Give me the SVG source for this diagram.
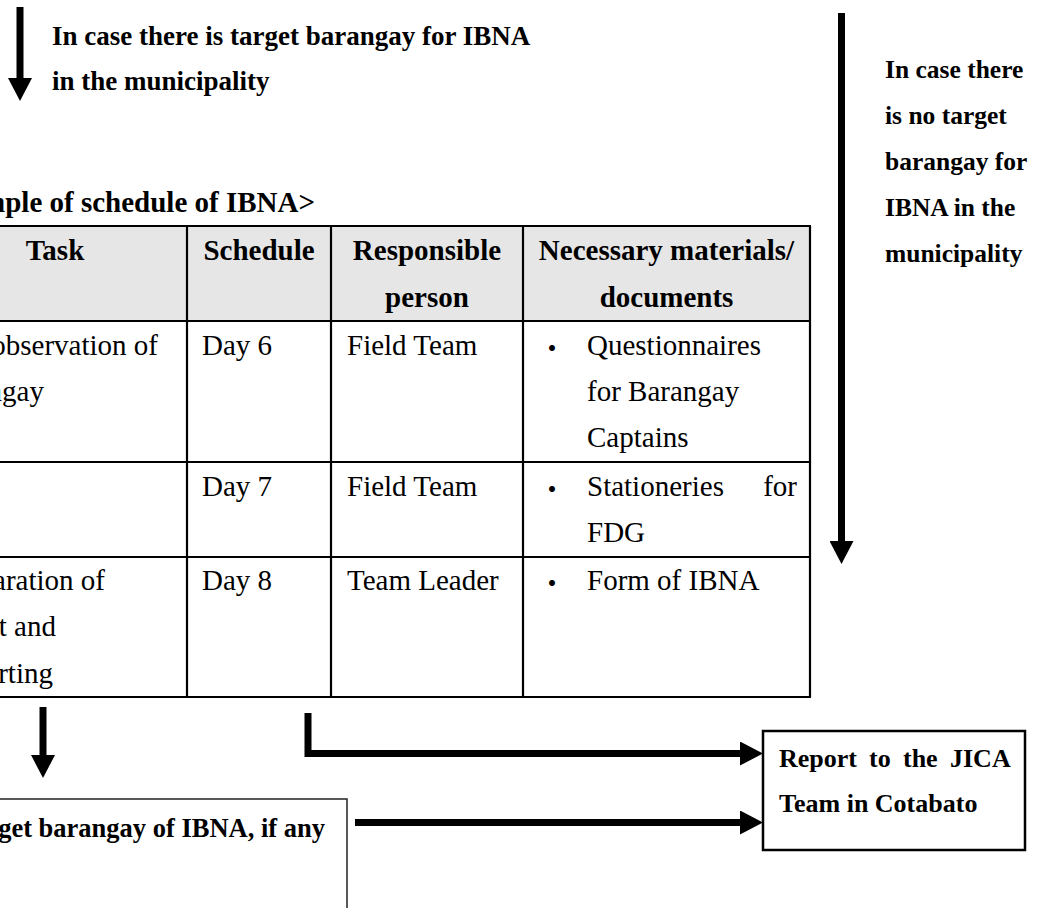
<svg xmlns="http://www.w3.org/2000/svg" width="1040" height="908" viewBox="0 0 1040 908">
  <style>
    text { font-family: "Liberation Serif", "Times New Roman", serif; fill: #000; }
    .lbl { font-weight: bold; font-size: 26px; }
    .lbl-b { font-weight: bold; font-size: 26.5px; }
    .lbl-l { font-weight: bold; font-size: 27px; }
    .lbl-r { font-weight: bold; font-size: 25.5px; }
    .th { font-weight: bold; font-size: 29px; text-anchor: middle; }
    .title { font-weight: bold; font-size: 29px; text-anchor: end; }
    .td { font-size: 29px; }
    .tde { font-size: 29px; text-anchor: end; }
    .dot { font-family: "Liberation Serif", "Noto Sans CJK JP", sans-serif; font-size: 28px; }
    .grid { stroke: #000; stroke-width: 2.2; fill: none; }
    .head-fill { fill: #e6e6e6; stroke: none; }
    .flow { stroke: #000; stroke-width: 7; fill: none; stroke-linejoin: miter; }
    .box { fill: #fff; stroke: #000; stroke-width: 2.5; }
    .box-thin { fill: #fff; stroke: #222; stroke-width: 1.5; }
  </style>
  <defs>
    <marker id="head" markerUnits="userSpaceOnUse" markerWidth="23" markerHeight="24"
            viewBox="0 0 23 24" refX="0" refY="12" orient="auto">
      <path d="M0,0 L23,12 L0,24 z" fill="#000"/>
    </marker>
  </defs>

  <rect width="1040" height="908" fill="#fff"/>

  <!-- branch label: target barangay exists -->
  <g id="label-target">
    <text class="lbl-l" x="52" y="45">In case there is target barangay for IBNA</text>
    <text class="lbl-l" x="52" y="90">in the municipality</text>
  </g>

  <!-- branch label: no target barangay -->
  <g id="label-no-target">
    <text class="lbl-r" x="885" y="78">In case there</text>
    <text class="lbl-r" x="885" y="124">is no target</text>
    <text class="lbl-r" x="885" y="170">barangay for</text>
    <text class="lbl-r" x="885" y="216">IBNA in the</text>
    <text class="lbl-r" x="885" y="262">municipality</text>
  </g>

  <!-- schedule table -->
  <g id="schedule-table">
    <text class="title" x="315" y="212">&lt;Example of schedule of IBNA&gt;</text>
    <rect class="head-fill" x="-10" y="226" width="820" height="95"/>
    <path class="grid" d="M-10,226 H811 M-10,321 H811 M-10,462 H811 M-10,557 H811 M-10,697 H811
                          M187,226 V697 M331,226 V697 M523,226 V697 M810,226 V697"/>
    <!-- header -->
    <text class="th" x="55" y="260">Task</text>
    <text class="th" x="259" y="260">Schedule</text>
    <text class="th" x="427" y="260">Responsible</text>
    <text class="th" x="427" y="307">person</text>
    <text class="th" x="666.5" y="260">Necessary materials/</text>
    <text class="th" x="666.5" y="307">documents</text>
    <!-- row: day 6 -->
    <text class="tde" x="158" y="355">observation of</text>
    <text class="tde" x="44" y="401">barangay</text>
    <text class="td" x="202" y="355">Day 6</text>
    <text class="td" x="347" y="355">Field Team</text>
    <text class="dot" x="538" y="359">・</text>
    <text class="td" x="587" y="355">Questionnaires</text>
    <text class="td" x="587" y="401">for Barangay</text>
    <text class="td" x="587" y="447">Captains</text>
    <!-- row: day 7 -->
    <text class="td" x="202" y="496">Day 7</text>
    <text class="td" x="347" y="496">Field Team</text>
    <text class="dot" x="538" y="500">・</text>
    <text class="td" x="587" y="496">Stationeries</text>
    <text class="tde" x="797" y="496">for</text>
    <text class="td" x="587" y="542">FDG</text>
    <!-- row: day 8 -->
    <text class="tde" x="105" y="590">Preparation of</text>
    <text class="tde" x="56" y="636">report and</text>
    <text class="tde" x="53" y="683">reporting</text>
    <text class="td" x="202" y="590">Day 8</text>
    <text class="td" x="347" y="590">Team Leader</text>
    <text class="dot" x="538" y="594">・</text>
    <text class="td" x="587" y="590">Form of IBNA</text>
  </g>

  <!-- target barangay box -->
  <g id="box-target">
    <rect class="box-thin" x="-10" y="799" width="357" height="200"/>
    <text class="lbl-b" x="325" y="837" text-anchor="end">target barangay of IBNA, if any</text>
  </g>

  <!-- report box -->
  <g id="box-report">
    <rect class="box" x="763" y="731" width="262" height="119"/>
    <text class="lbl" y="767"><tspan x="779">Report</tspan><tspan x="869">to</tspan><tspan x="903">the</tspan><tspan x="950">JICA</tspan></text>
    <text class="lbl" x="779" y="812">Team in Cotabato</text>
  </g>

  <!-- connectors -->
  <g id="connectors">
    <path class="flow" d="M20,7 V78" marker-end="url(#head)"/>
    <path class="flow" d="M841.5,13 V541" marker-end="url(#head)"/>
    <path class="flow" d="M43,707 V755" marker-end="url(#head)"/>
    <path class="flow" d="M308,713 V753.5 H740" marker-end="url(#head)"/>
    <path class="flow" d="M355,822.5 H740" marker-end="url(#head)"/>
  </g>
</svg>
